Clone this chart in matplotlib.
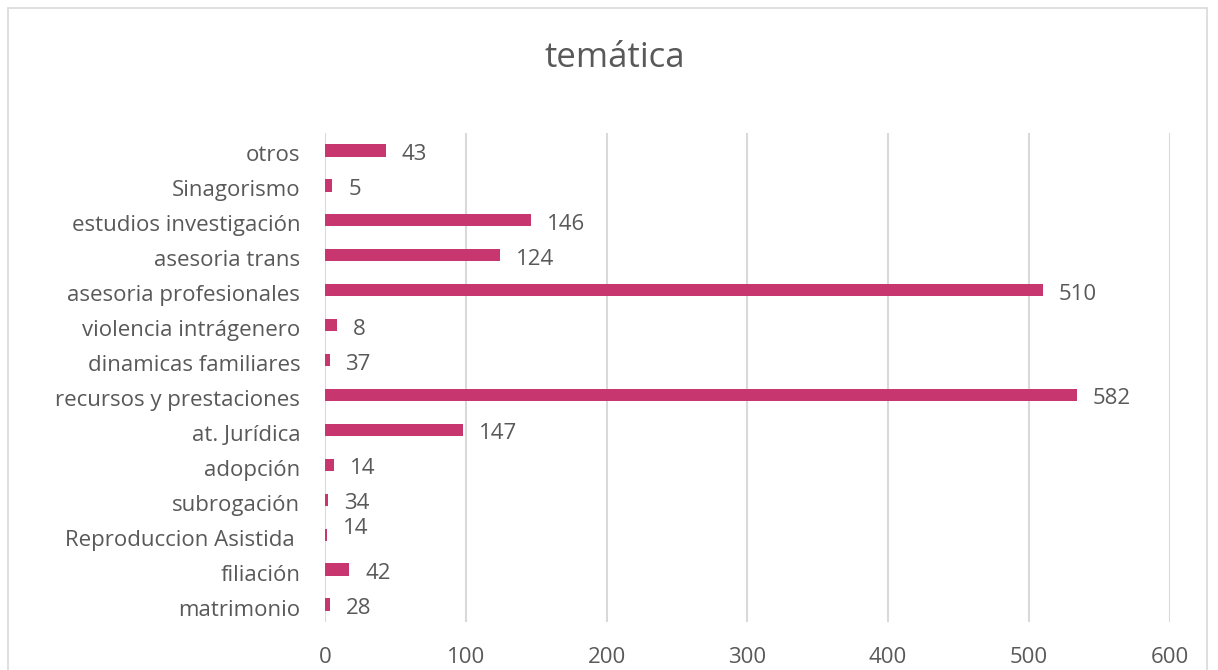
import matplotlib
matplotlib.use("Agg")
import matplotlib.pyplot as plt
import matplotlib.transforms as mtransforms
from matplotlib.patches import Rectangle

plt.rcParams['font.family'] = ['Open Sans', 'DejaVu Sans']

categories = ["matrimonio", "filiación", "Reproduccion Asistida ", "subrogación",
              "adopción", "at. Jurídica", "recursos y prestaciones",
              "dinamicas familiares", "violencia intrágenero",
              "asesoria profesionales", "asesoria trans",
              "estudios investigación", "Sinagorismo", "otros"]
bar_values = [3, 17, 1.5, 2, 6, 98, 534, 3, 8, 510, 124, 146, 5, 43]
label_texts = ["28", "42", "14", "34", "14", "147", "582", "37", "8",
               "510", "124", "146", "5", "43"]
label_dy_px = [0, 0, 10, 0, 0, 0, 0, 0, 0, 0, 0, 0, 0, 0]
x_ticks = [0, 100, 200, 300, 400, 500, 600]

W, H = 1218, 670
fig = plt.figure(figsize=(W / 100, H / 100), dpi=100)
fig.patch.set_facecolor('white')

# outer chart border
fig.add_artist(Rectangle((8 / W, -0.05), (1207 - 8) / W, 1 - 8 / H + 0.05,
                         transform=fig.transFigure, fill=False,
                         edgecolor='#D9D9D9', linewidth=1.2))

left, right, top, bottom = 325.3, 1169.5, 133, 622
ax = fig.add_axes([left / W, 1 - bottom / H, (right - left) / W, (bottom - top) / H])

grey = '#595959'
fs = 16
ypos = list(range(len(categories)))
ax.barh(ypos, bar_values, height=0.35, color='#C8366F', zorder=3)

for y, v, t, dy in zip(ypos, bar_values, label_texts, label_dy_px):
    ax.annotate(t, xy=(v, y), xytext=(16 * 0.72, -4 * 0.72 + dy * 0.72),
                textcoords='offset points', ha='left', va='center',
                fontsize=fs, color=grey)

ax.set_xlim(0, 600)
ax.set_ylim(-0.5, len(categories) - 0.5)
ax.set_xticks(x_ticks)
ax.set_xticklabels([str(t) for t in x_ticks])
ax.set_yticks(ypos)
ax.set_yticklabels(categories)
ax.tick_params(axis='both', length=0, labelsize=fs, colors=grey)
ax.tick_params(axis='x', pad=18)
ax.tick_params(axis='y', pad=18)
shift = mtransforms.ScaledTranslation(0, -3 / 100, fig.dpi_scale_trans)
for lbl in ax.get_yticklabels():
    lbl.set_transform(lbl.get_transform() + shift)
ax.xaxis.grid(True, color='#D9D9D9', linewidth=1.5, zorder=0)
ax.set_axisbelow(True)
for s in ax.spines.values():
    s.set_visible(False)

fig.text(615 / W, 1 - 58 / H, "temática", ha='center', va='center',
         fontsize=25, color=grey)

fig.savefig("out.png", dpi=100, facecolor='white')
